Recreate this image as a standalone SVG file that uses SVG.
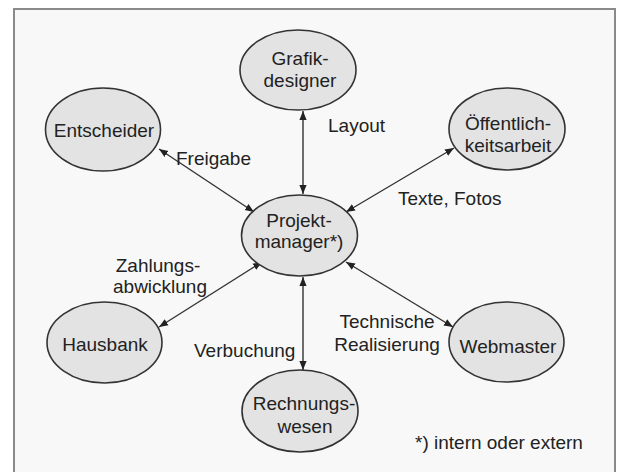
<svg xmlns="http://www.w3.org/2000/svg" width="621" height="472" viewBox="0 0 621 472">
<defs>
<style>
.node ellipse{fill:#e3e3e3;stroke:#333;stroke-width:1.6}
text{font-family:"Liberation Sans",Arial,sans-serif;font-size:19px;fill:#222}
.c{text-anchor:middle}
.conn line{stroke:#333;stroke-width:1.4;marker-start:url(#ah);marker-end:url(#ah)}
</style>
<marker id="ah" viewBox="0 0 10 10" refX="10" refY="5" markerWidth="9" markerHeight="9" markerUnits="userSpaceOnUse" orient="auto-start-reverse">
<path d="M0,1 L10,5 L0,9 z" fill="#222"/>
</marker>
</defs>
<rect x="0" y="0" width="621" height="472" fill="#ffffff"/>
<rect x="14" y="9" width="601" height="475" fill="#f8f8f8" stroke="#8a8a8a" stroke-width="2"/>
<g class="conn">
<line x1="303" y1="194" x2="303" y2="111"/>
<line x1="303" y1="277" x2="303" y2="370"/>
<line x1="254" y1="212" x2="159" y2="149"/>
<line x1="346" y1="212" x2="454" y2="148"/>
<line x1="262" y1="262" x2="159" y2="327"/>
<line x1="346" y1="262" x2="453" y2="327"/>
</g>
<g id="grafikdesigner" class="node"><ellipse cx="298" cy="70" rx="58" ry="40"/><text class="c" x="300" y="65">Grafik-</text><text class="c" x="300" y="87">designer</text></g>
<g id="entscheider" class="node"><ellipse cx="103" cy="129.5" rx="57.5" ry="41.5"/><text class="c" x="104" y="137">Entscheider</text></g>
<g id="oeffentlichkeitsarbeit" class="node"><ellipse cx="507" cy="129" rx="58" ry="41"/><text class="c" x="508" y="130">Öffentlich-</text><text class="c" x="508" y="152">keitsarbeit</text></g>
<g id="projektmanager" class="node"><ellipse cx="299.5" cy="235.5" rx="58" ry="40.5"/><text class="c" x="299" y="227">Projekt-</text><text class="c" x="299" y="248">manager*)</text></g>
<g id="hausbank" class="node"><ellipse cx="104.5" cy="342.5" rx="57.5" ry="40.5"/><text class="c" x="105" y="351">Hausbank</text></g>
<g id="webmaster" class="node"><ellipse cx="506.5" cy="342" rx="57.5" ry="40"/><text class="c" x="508" y="353">Webmaster</text></g>
<g id="rechnungswesen" class="node"><ellipse cx="300" cy="411" rx="58" ry="41"/><text class="c" x="304" y="410">Rechnungs-</text><text class="c" x="305" y="433">wesen</text></g>
<g id="labels">
<text x="328" y="132">Layout</text>
<text x="176" y="165">Freigabe</text>
<text x="398" y="205">Texte, Fotos</text>
<text class="c" x="158" y="272">Zahlungs-</text>
<text class="c" x="160" y="293">abwicklung</text>
<text class="c" x="387" y="328">Technische</text>
<text class="c" x="387" y="351">Realisierung</text>
<text x="194" y="357">Verbuchung</text>
<text x="415" y="449">*) intern oder extern</text>
</g>
</svg>
